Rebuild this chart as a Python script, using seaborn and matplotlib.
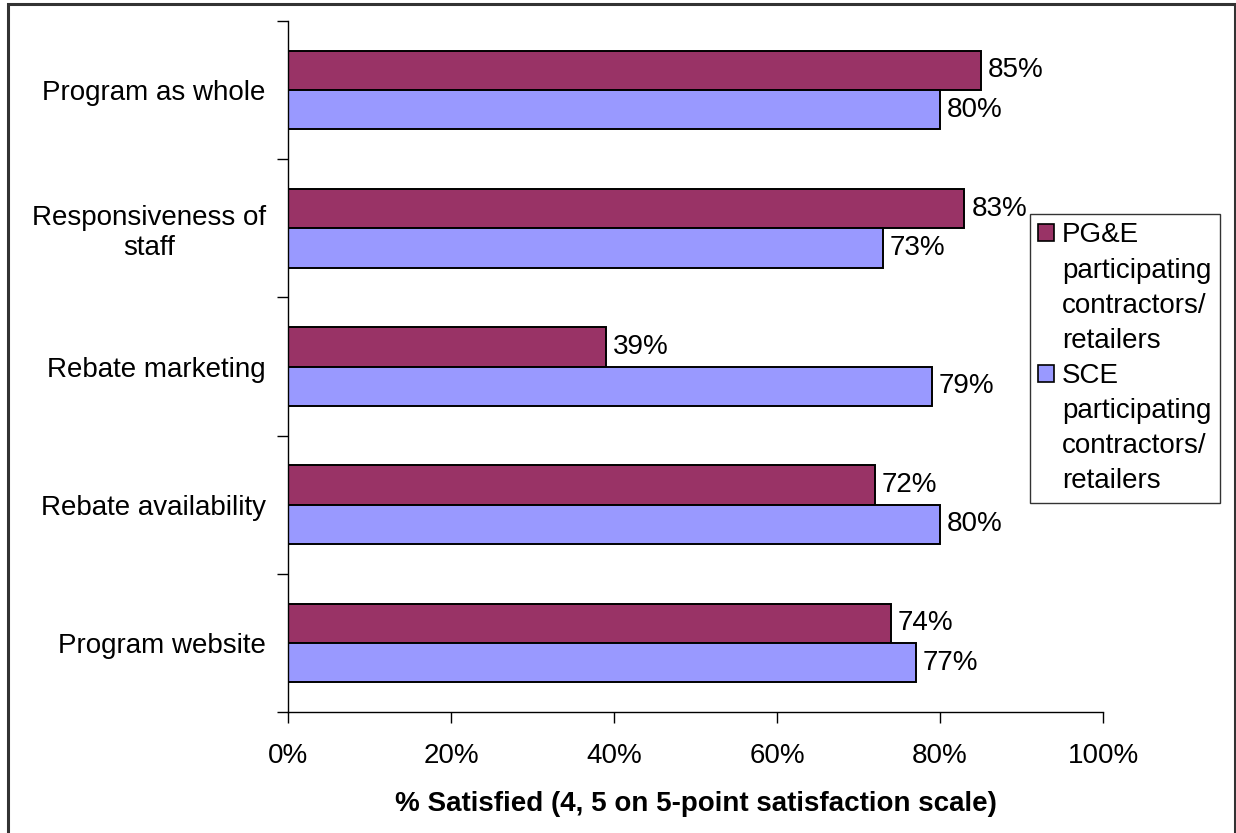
import matplotlib
matplotlib.use("Agg")
import matplotlib.pyplot as plt
from matplotlib.patches import Rectangle
import seaborn as sns
import pandas as pd
import numpy as np

categories = ["Program as whole", "Responsiveness of\nstaff", "Rebate marketing",
              "Rebate availability", "Program website"]
series_names = ["PG&E\nparticipating\ncontractors/\nretailers",
                "SCE\nparticipating\ncontractors/\nretailers"]
pge_values = [85, 83, 39, 72, 74]
sce_values = [80, 73, 79, 80, 77]
x_ticks = [0, 20, 40, 60, 80, 100]
x_tick_labels = ["0%", "20%", "40%", "60%", "80%", "100%"]
x_label = "% Satisfied (4, 5 on 5-point satisfaction scale)"
colors = ["#993366", "#9999FF"]

df = pd.DataFrame({
    "category": categories * 2,
    "series": [series_names[0]] * len(categories) + [series_names[1]] * len(categories),
    "value": pge_values + sce_values,
})

sns.set_theme(style="white")
plt.rcParams["font.family"] = ["Liberation Sans", "DejaVu Sans"]
plt.rcParams["text.color"] = "black"
plt.rcParams["axes.labelcolor"] = "black"
plt.rcParams["xtick.color"] = "black"
plt.rcParams["ytick.color"] = "black"

FS = 20

fig = plt.figure(figsize=(12.36, 8.33), dpi=100)
ax = fig.add_axes([288 / 1236, 1 - 712 / 833, (1103 - 288) / 1236, (712 - 21) / 833])

sns.barplot(data=df, x="value", y="category", hue="series", orient="h",
            palette=colors, width=0.57, gap=0, edgecolor="black", linewidth=1.4,
            saturation=1, ax=ax, legend=True)

# value labels to the right of each bar
for container in ax.containers:
    ax.bar_label(container, labels=[f"{v:.0f}%" for v in container.datavalues],
                 padding=5, fontsize=FS, color="black")

ax.set_xlim(0, 100)
ax.set_ylim(len(categories) - 0.5, -0.5)
ax.set_xticks(x_ticks)
ax.set_xticklabels(x_tick_labels, fontsize=FS)
ax.set_xlabel(x_label, fontsize=FS, fontweight="bold", labelpad=16)
ax.set_ylabel("")

ax.set_yticks(range(len(categories)))
ax.set_yticklabels(categories, fontsize=FS)
for lbl in ax.get_yticklabels():
    lbl.set_multialignment("center")
ax.set_yticks(np.arange(-0.5, len(categories), 1.0), minor=True)
ax.tick_params(axis="y", which="major", length=0, pad=16)
ax.tick_params(axis="y", which="minor", length=8, width=1, color="black", direction="out", left=True)
ax.tick_params(axis="x", which="major", length=8, width=1, color="black", direction="out",
               bottom=True, pad=14)

for side in ["top", "right"]:
    ax.spines[side].set_visible(False)
for side in ["left", "bottom"]:
    ax.spines[side].set_color("black")
    ax.spines[side].set_linewidth(1)
ax.grid(False)

# legend: colour swatch beside the first line of each series name
handles, labels = ax.get_legend_handles_labels()
ax.legend_.remove()
leg_handles, leg_labels = [], []
for h, lab in zip(handles, labels):
    lines = lab.split("\n")
    for i, line in enumerate(lines):
        if i == 0:
            leg_handles.append(Rectangle((0, 0), 1, 1, facecolor=h.get_facecolor(),
                                         edgecolor="black", linewidth=1.2))
        else:
            leg_handles.append(Rectangle((0, 0), 1, 1, facecolor="none", edgecolor="none"))
        leg_labels.append(line)

leg = fig.legend(leg_handles, leg_labels, loc="upper left",
                 bbox_to_anchor=(1030 / 1236, 1 - 214 / 833),
                 frameon=True, fancybox=False, edgecolor="black", fontsize=FS,
                 handlelength=0.55, handleheight=0.55, handletextpad=0.3,
                 borderpad=0.3, labelspacing=0.33, borderaxespad=0)
leg.get_frame().set_linewidth(1)

# outer frame of the chart area
fig.patches.append(Rectangle((8 / 1236, -0.01), (1235 - 8) / 1236, 1.01 - 4 / 833,
                             transform=fig.transFigure, fill=False,
                             edgecolor="#333333", linewidth=2.2, clip_on=False))

fig.savefig("out.png", dpi=100, facecolor="white")
